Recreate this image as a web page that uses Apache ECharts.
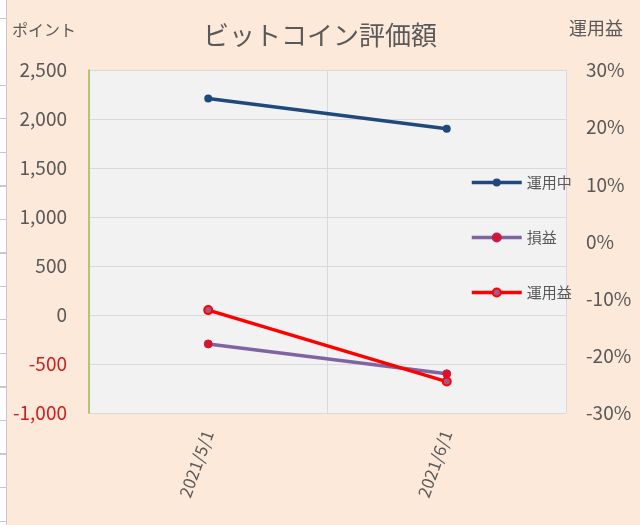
<!DOCTYPE html>
<html><head><meta charset="utf-8">
<script src="https://cdn.jsdelivr.net/npm/echarts@6/dist/echarts.min.js"></script>
<style>
html,body{margin:0;padding:0;background:#fde9d9;}
#strip{position:absolute;left:0;top:0;width:6px;height:525px;background-color:#fff;border-right:1px solid #c8c8c8;
background-image:repeating-linear-gradient(to bottom, transparent 0px, transparent 18px, #c8c8c8 18px, #c8c8c8 19px, transparent 19px, transparent 33.5px);
}
#c{position:absolute;left:0;top:0;width:640px;height:525px;}
</style></head>
<body><div id="c"></div><div id="strip"></div>
<script>
const categories = ['2021/5/1', '2021/6/1'];
const running = [2210, 1900];      // 運用中
const pnl = [-295, -600];          // 損益
const returnPct = [-12, -24.5];    // 運用益 (%)
const leftTicks = {min: -1000, max: 2500, interval: 500};
const rightTicks = {min: -30, max: 30, interval: 10};

const font = '"Noto Sans CJK JP", sans-serif';
const chart = echarts.init(document.getElementById('c'));
chart.setOption({
  backgroundColor: '#fde9d9',
  textStyle: {fontFamily: font},
  title: {text: 'ビットコイン評価額', left: 'center', top: 17,
    textStyle: {fontFamily: font, fontSize: 26, fontWeight: 'normal', color: '#595959'}},
  graphic: [
    {type: 'rect', shape: {x: 89, y: 70, width: 477, height: 343}, style: {fill: '#f2f2f2'}, z: -1},
    {type: 'text', left: 12, top: 22, style: {text: 'ポイント', font: '16px ' + font, fill: '#595959'}},
    {type: 'text', left: 569, top: 19, style: {text: '運用益', font: '18px ' + font, fill: '#595959'}}
  ],
  legend: {
    orient: 'vertical', left: 465, top: 170, itemGap: 40, itemWidth: 50, itemHeight: 10,
    lineStyle: {width: 3.5},
    textStyle: {fontFamily: font, fontSize: 15, color: '#595959'},
    data: ['運用中', '損益', '運用益']
  },
  grid: {left: 89, right: 74, top: 70, bottom: 112, containLabel: false},
  xAxis: {
    type: 'category', data: categories, boundaryGap: true,
    axisLine: {show: false}, axisTick: {show: false},
    splitLine: {show: true, interval: 0, lineStyle: {color: '#d9d9d9'}},
    axisLabel: {rotate: 70, fontSize: 17, color: '#595959', margin: 18, fontFamily: font,
      interval: 0}
  },
  yAxis: [
    {type: 'value', min: leftTicks.min, max: leftTicks.max, interval: leftTicks.interval,
      axisLine: {show: true, lineStyle: {color: '#9bbb59', width: 1.5}}, axisTick: {show: false},
      splitLine: {lineStyle: {color: '#d9d9d9'}},
      axisLabel: {margin: 22, fontSize: 19, fontFamily: font,
        formatter: v => v < 0 ? '{n|' + v.toLocaleString('en-US') + '}' : '{p|' + v.toLocaleString('en-US') + '}',
        rich: {n: {color: '#d01f1f', fontSize: 19, fontFamily: font}, p: {color: '#595959', fontSize: 19, fontFamily: font}}}
    },
    {type: 'value', min: rightTicks.min, max: rightTicks.max, interval: rightTicks.interval,
      axisLine: {show: false}, axisTick: {show: false}, splitLine: {show: false},
      axisLabel: {margin: 20, fontSize: 19, color: '#595959', fontFamily: font, formatter: '{value}%'}
    }
  ],
  series: [
    {name: '運用中', type: 'line', data: running, yAxisIndex: 0, symbol: 'circle', symbolSize: 8,
      lineStyle: {color: '#1f497d', width: 3.5}, itemStyle: {color: '#1f497d'}},
    {name: '損益', type: 'line', data: pnl, yAxisIndex: 0, symbol: 'circle', symbolSize: 8,
      lineStyle: {color: '#8064a2', width: 3.5}, itemStyle: {color: '#e0102a', borderColor: '#c0204a', borderWidth: 1}},
    {name: '運用益', type: 'line', data: returnPct, yAxisIndex: 1, symbol: 'circle', symbolSize: 8,
      lineStyle: {color: '#ff0000', width: 3.5}, itemStyle: {color: '#9b5b8b', borderColor: '#ff0000', borderWidth: 2}}
  ]
});
</script></body></html>
